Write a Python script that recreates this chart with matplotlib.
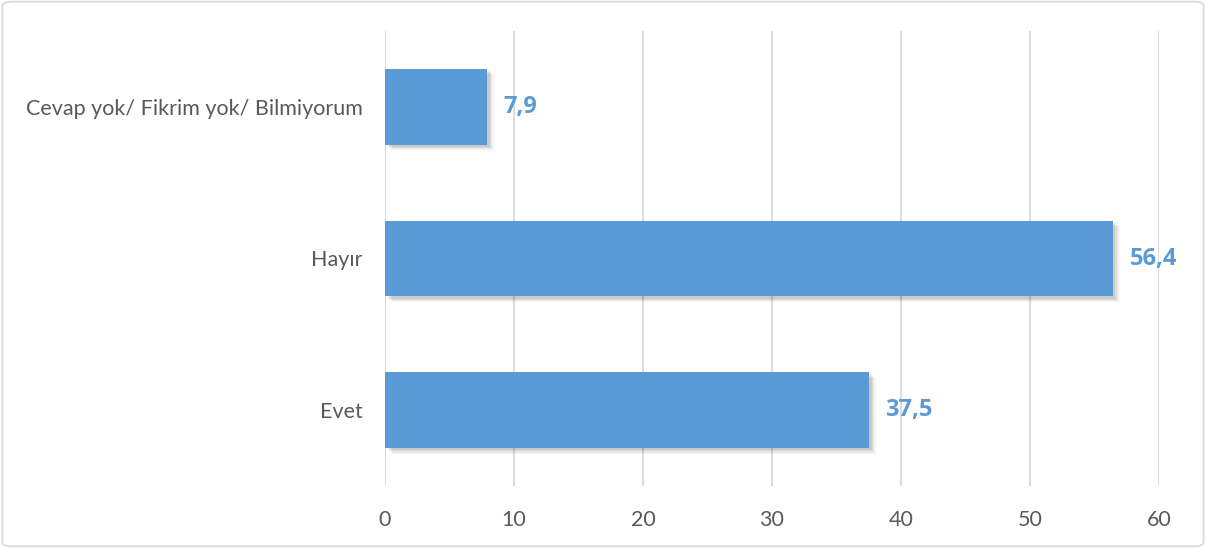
import matplotlib
matplotlib.use("Agg")
import matplotlib.pyplot as plt
import matplotlib.patheffects as pe
from matplotlib.patches import FancyBboxPatch

categories = ["Evet", "Hayır", "Cevap yok/ Fikrim yok/ Bilmiyorum"]
values = [37.5, 56.4, 7.9]
value_labels = ["37,5", "56,4", "7,9"]
xticks = [0, 10, 20, 30, 40, 50, 60]

bar_color = "#5B9BD5"
text_color = "#595959"
grid_color = "#D9D9D9"

plt.rcParams['font.family'] = ['Lato', 'DejaVu Sans']

fig = plt.figure(figsize=(12.06, 5.48), dpi=100)
ax = fig.add_axes([385/1206, 1-486/548, (1159-385)/1206, (486-31)/548])

y = list(range(len(categories)))
bars = ax.barh(y, values, height=0.5, color=bar_color, zorder=3)
shadow = []
for off, a in [(5, 0.04), (4, 0.05), (3, 0.06), (2, 0.07)]:
    shadow.append(pe.SimplePatchShadow(offset=(off, -off * 0.8), shadow_rgbFace="#000000", alpha=a))
for b in bars:
    b.set_path_effects(shadow + [pe.Normal()])

for yi, v, lab in zip(y, values, value_labels):
    ax.text(v + 1.3, yi, lab, va="center", ha="left", fontsize=17, fontweight="bold",
            family=["Open Sans", "DejaVu Sans"], color=bar_color, zorder=4)

ax.set_xlim(0, 60)
ax.set_ylim(-0.5, 2.5)
ax.set_xticks(xticks)
ax.set_xticklabels([str(t) for t in xticks], fontsize=15.5, color=text_color)
ax.set_yticks(y)
ax.set_yticklabels(categories, fontsize=15.5, color=text_color)
ax.tick_params(axis="both", length=0)
ax.tick_params(axis="x", pad=17)
ax.tick_params(axis="y", pad=16)
ax.xaxis.grid(True, color=grid_color, linewidth=1.3, zorder=0)
ax.set_axisbelow(True)
for s in ax.spines.values():
    s.set_visible(False)

border = FancyBboxPatch((0.002, 0.003), 0.996, 0.994, boxstyle="round,pad=0,rounding_size=0.008",
                        transform=fig.transFigure, fill=False, edgecolor="#D9D9D9", linewidth=1.3)
fig.patches.append(border)

fig.savefig("out.png", dpi=100, facecolor="white")
